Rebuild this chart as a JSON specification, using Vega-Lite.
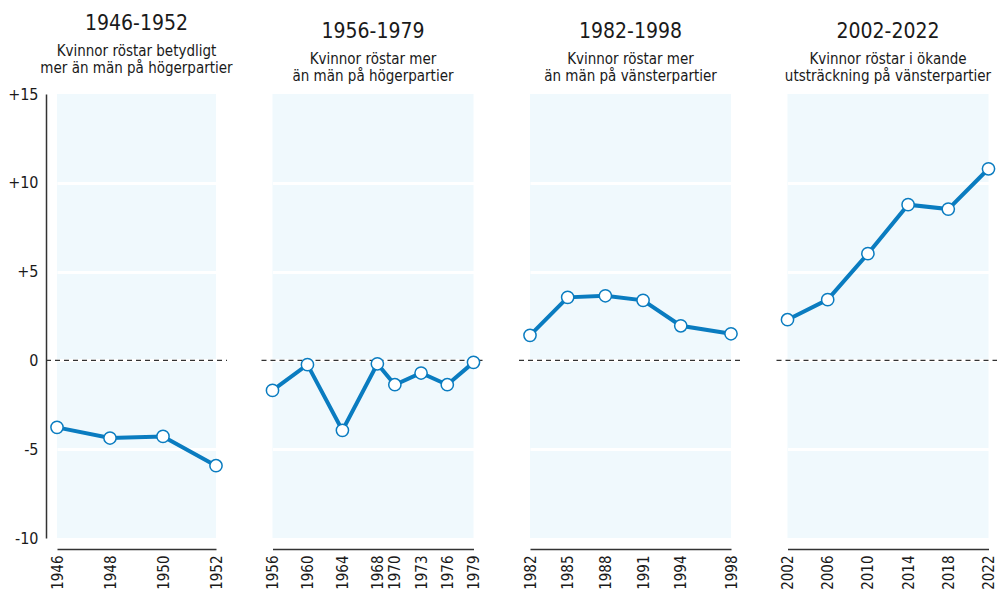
{
  "$schema": "https://vega.github.io/schema/vega-lite/v6.json",
  "padding": {"left": 7, "top": 12, "right": 5, "bottom": 0},
  "background": "white",
  "bounds": "flush",
  "spacing": 56.5,
  "config": {
    "font": "Liberation Sans Narrow, DejaVu Sans Condensed, Roboto, sans-serif",
    "view": {"fill": "#f0f9fd", "stroke": null},
    "title": {
      "font": "Liberation Sans Narrow, DejaVu Sans Condensed, Roboto, sans-serif",
      "subtitleFont": "Liberation Sans Narrow, DejaVu Sans Condensed, Roboto, sans-serif",
      "fontSize": 21, "fontWeight": "normal", "color": "#1a1a1a",
      "subtitleFontSize": 15, "subtitleColor": "#1a1a1a", "subtitleLineHeight": 17.5,
      "subtitlePadding": 10, "anchor": "middle", "frame": "group", "offset": 10
    },
    "axis": {
      "labelFont": "Liberation Sans Narrow, DejaVu Sans Condensed, Roboto, sans-serif",
      "labelFontSize": 16, "labelColor": "#1a1a1a", "title": null, "ticks": false
    },
    "axisX": {
      "labelAngle": -90, "offset": 11, "domainColor": "#333", "domainWidth": 1.5, "labelFontSize": 15,
      "grid": false, "labelPadding": 6, "format": "d", "labelFlush": false, "labelOverlap": false, "labelBound": false
    },
    "axisY": {
      "grid": true, "gridColor": "white", "gridWidth": 3,
      "gridOpacity": {"condition": {"test": "datum.value == 15 || datum.value == -10", "value": 0}, "value": 1}
    }
  },
  "datasets": {
    "p1": [
      {"year": 1946, "diff": -3.77}, {"year": 1948, "diff": -4.37},
      {"year": 1950, "diff": -4.28}, {"year": 1952, "diff": -5.93}
    ],
    "p2": [
      {"year": 1956, "diff": -1.69}, {"year": 1960, "diff": -0.24},
      {"year": 1964, "diff": -3.94}, {"year": 1968, "diff": -0.19},
      {"year": 1970, "diff": -1.37}, {"year": 1973, "diff": -0.71},
      {"year": 1976, "diff": -1.37}, {"year": 1979, "diff": -0.11}
    ],
    "p3": [
      {"year": 1982, "diff": 1.41}, {"year": 1985, "diff": 3.55},
      {"year": 1988, "diff": 3.64}, {"year": 1991, "diff": 3.38},
      {"year": 1994, "diff": 1.95}, {"year": 1998, "diff": 1.50}
    ],
    "p4": [
      {"year": 2002, "diff": 2.29}, {"year": 2006, "diff": 3.42},
      {"year": 2010, "diff": 6.01}, {"year": 2014, "diff": 8.77},
      {"year": 2018, "diff": 8.52}, {"year": 2022, "diff": 10.79}
    ]
  },
  "hconcat": [
    {
      "width": 159, "height": 444,
      "title": {"text": "1946-1952", "subtitle": ["Kvinnor röstar betydligt", "mer än män på högerpartier"]},
      "data": {"name": "p1"},
      "layer": [
        {"mark": {"type": "rule", "strokeDash": [5, 4], "color": "#333", "strokeWidth": 1.2, "xOffset": -11, "x2Offset": 11, "clip": false},
         "encoding": {
           "x": {"aggregate": "min", "field": "year", "type": "quantitative", "scale": {"domain": [1946, 1952], "nice": false, "zero": false},
                 "axis": {"values": [1946, 1948, 1950, 1952], "labelOverlap": false}},
           "x2": {"aggregate": "max", "field": "year"},
           "y": {"datum": 0, "type": "quantitative", "scale": {"domain": [-10, 15], "nice": false, "zero": false},
                 "axis": {"values": [-10, -5, 0, 5, 10, 15], "offset": 11, "domain": true, "domainColor": "#333", "domainWidth": 1.5, "labelPadding": 8,
                          "labelExpr": "datum.value > 0 ? '+' + datum.value : '' + datum.value"}}}},
        {"mark": {"type": "line", "color": "#0a7cc0", "strokeWidth": 4},
         "encoding": {
           "x": {"field": "year", "type": "quantitative", "scale": {"domain": [1946, 1952], "nice": false, "zero": false},
                 "axis": {"values": [1946, 1948, 1950, 1952], "labelOverlap": false}},
           "y": {"field": "diff", "type": "quantitative", "scale": {"domain": [-10, 15], "nice": false, "zero": false},
                 "axis": {"values": [-10, -5, 0, 5, 10, 15], "offset": 11, "domain": true, "domainColor": "#333", "domainWidth": 1.5, "labelPadding": 8,
                          "labelExpr": "datum.value > 0 ? '+' + datum.value : '' + datum.value"}}}},
        {"mark": {"type": "point", "filled": true, "fill": "white", "stroke": "#0a7cc0", "strokeWidth": 1.5, "size": 150, "opacity": 1},
         "encoding": {
           "x": {"field": "year", "type": "quantitative", "scale": {"domain": [1946, 1952], "nice": false, "zero": false},
                 "axis": {"values": [1946, 1948, 1950, 1952], "labelOverlap": false}},
           "y": {"field": "diff", "type": "quantitative", "scale": {"domain": [-10, 15], "nice": false, "zero": false},
                 "axis": {"values": [-10, -5, 0, 5, 10, 15], "offset": 11, "domain": true, "domainColor": "#333", "domainWidth": 1.5, "labelPadding": 8,
                          "labelExpr": "datum.value > 0 ? '+' + datum.value : '' + datum.value"}}}}
      ]
    },
    {
      "width": 201, "height": 444,
      "title": {"text": "1956-1979", "subtitle": ["Kvinnor röstar mer", "än män på högerpartier"]},
      "data": {"name": "p2"},
      "layer": [
        {"mark": {"type": "rule", "strokeDash": [5, 4], "color": "#333", "strokeWidth": 1.2, "xOffset": -11, "x2Offset": 11, "clip": false},
         "encoding": {
           "x": {"aggregate": "min", "field": "year", "type": "quantitative", "scale": {"domain": [1956, 1979], "nice": false, "zero": false},
                 "axis": {"values": [1956, 1960, 1964, 1968, 1970, 1973, 1976, 1979], "labelOverlap": false}},
           "x2": {"aggregate": "max", "field": "year"},
           "y": {"datum": 0, "type": "quantitative", "scale": {"domain": [-10, 15], "nice": false, "zero": false},
                 "axis": {"values": [-10, -5, 0, 5, 10, 15], "labels": false, "domain": false}}}},
        {"mark": {"type": "line", "color": "#0a7cc0", "strokeWidth": 4},
         "encoding": {
           "x": {"field": "year", "type": "quantitative", "scale": {"domain": [1956, 1979], "nice": false, "zero": false},
                 "axis": {"values": [1956, 1960, 1964, 1968, 1970, 1973, 1976, 1979], "labelOverlap": false}},
           "y": {"field": "diff", "type": "quantitative", "scale": {"domain": [-10, 15], "nice": false, "zero": false},
                 "axis": {"values": [-10, -5, 0, 5, 10, 15], "labels": false, "domain": false}}}},
        {"mark": {"type": "point", "filled": true, "fill": "white", "stroke": "#0a7cc0", "strokeWidth": 1.5, "size": 150, "opacity": 1},
         "encoding": {
           "x": {"field": "year", "type": "quantitative", "scale": {"domain": [1956, 1979], "nice": false, "zero": false},
                 "axis": {"values": [1956, 1960, 1964, 1968, 1970, 1973, 1976, 1979], "labelOverlap": false}},
           "y": {"field": "diff", "type": "quantitative", "scale": {"domain": [-10, 15], "nice": false, "zero": false},
                 "axis": {"values": [-10, -5, 0, 5, 10, 15], "labels": false, "domain": false}}}}
      ]
    },
    {
      "width": 201, "height": 444,
      "title": {"text": "1982-1998", "subtitle": ["Kvinnor röstar mer", "än män på vänsterpartier"]},
      "data": {"name": "p3"},
      "layer": [
        {"mark": {"type": "rule", "strokeDash": [5, 4], "color": "#333", "strokeWidth": 1.2, "xOffset": -11, "x2Offset": 11, "clip": false},
         "encoding": {
           "x": {"aggregate": "min", "field": "year", "type": "quantitative", "scale": {"domain": [1982, 1998], "nice": false, "zero": false},
                 "axis": {"values": [1982, 1985, 1988, 1991, 1994, 1998], "labelOverlap": false}},
           "x2": {"aggregate": "max", "field": "year"},
           "y": {"datum": 0, "type": "quantitative", "scale": {"domain": [-10, 15], "nice": false, "zero": false},
                 "axis": {"values": [-10, -5, 0, 5, 10, 15], "labels": false, "domain": false}}}},
        {"mark": {"type": "line", "color": "#0a7cc0", "strokeWidth": 4},
         "encoding": {
           "x": {"field": "year", "type": "quantitative", "scale": {"domain": [1982, 1998], "nice": false, "zero": false},
                 "axis": {"values": [1982, 1985, 1988, 1991, 1994, 1998], "labelOverlap": false}},
           "y": {"field": "diff", "type": "quantitative", "scale": {"domain": [-10, 15], "nice": false, "zero": false},
                 "axis": {"values": [-10, -5, 0, 5, 10, 15], "labels": false, "domain": false}}}},
        {"mark": {"type": "point", "filled": true, "fill": "white", "stroke": "#0a7cc0", "strokeWidth": 1.5, "size": 150, "opacity": 1},
         "encoding": {
           "x": {"field": "year", "type": "quantitative", "scale": {"domain": [1982, 1998], "nice": false, "zero": false},
                 "axis": {"values": [1982, 1985, 1988, 1991, 1994, 1998], "labelOverlap": false}},
           "y": {"field": "diff", "type": "quantitative", "scale": {"domain": [-10, 15], "nice": false, "zero": false},
                 "axis": {"values": [-10, -5, 0, 5, 10, 15], "labels": false, "domain": false}}}}
      ]
    },
    {
      "width": 201, "height": 444,
      "title": {"text": "2002-2022", "subtitle": ["Kvinnor röstar i ökande", "utsträckning på vänsterpartier"]},
      "data": {"name": "p4"},
      "layer": [
        {"mark": {"type": "rule", "strokeDash": [5, 4], "color": "#333", "strokeWidth": 1.2, "xOffset": -11, "x2Offset": 11, "clip": false},
         "encoding": {
           "x": {"aggregate": "min", "field": "year", "type": "quantitative", "scale": {"domain": [2002, 2022], "nice": false, "zero": false},
                 "axis": {"values": [2002, 2006, 2010, 2014, 2018, 2022], "labelOverlap": false}},
           "x2": {"aggregate": "max", "field": "year"},
           "y": {"datum": 0, "type": "quantitative", "scale": {"domain": [-10, 15], "nice": false, "zero": false},
                 "axis": {"values": [-10, -5, 0, 5, 10, 15], "labels": false, "domain": false}}}},
        {"mark": {"type": "line", "color": "#0a7cc0", "strokeWidth": 4},
         "encoding": {
           "x": {"field": "year", "type": "quantitative", "scale": {"domain": [2002, 2022], "nice": false, "zero": false},
                 "axis": {"values": [2002, 2006, 2010, 2014, 2018, 2022], "labelOverlap": false}},
           "y": {"field": "diff", "type": "quantitative", "scale": {"domain": [-10, 15], "nice": false, "zero": false},
                 "axis": {"values": [-10, -5, 0, 5, 10, 15], "labels": false, "domain": false}}}},
        {"mark": {"type": "point", "filled": true, "fill": "white", "stroke": "#0a7cc0", "strokeWidth": 1.5, "size": 150, "opacity": 1},
         "encoding": {
           "x": {"field": "year", "type": "quantitative", "scale": {"domain": [2002, 2022], "nice": false, "zero": false},
                 "axis": {"values": [2002, 2006, 2010, 2014, 2018, 2022], "labelOverlap": false}},
           "y": {"field": "diff", "type": "quantitative", "scale": {"domain": [-10, 15], "nice": false, "zero": false},
                 "axis": {"values": [-10, -5, 0, 5, 10, 15], "labels": false, "domain": false}}}}
      ]
    }
  ]
}
